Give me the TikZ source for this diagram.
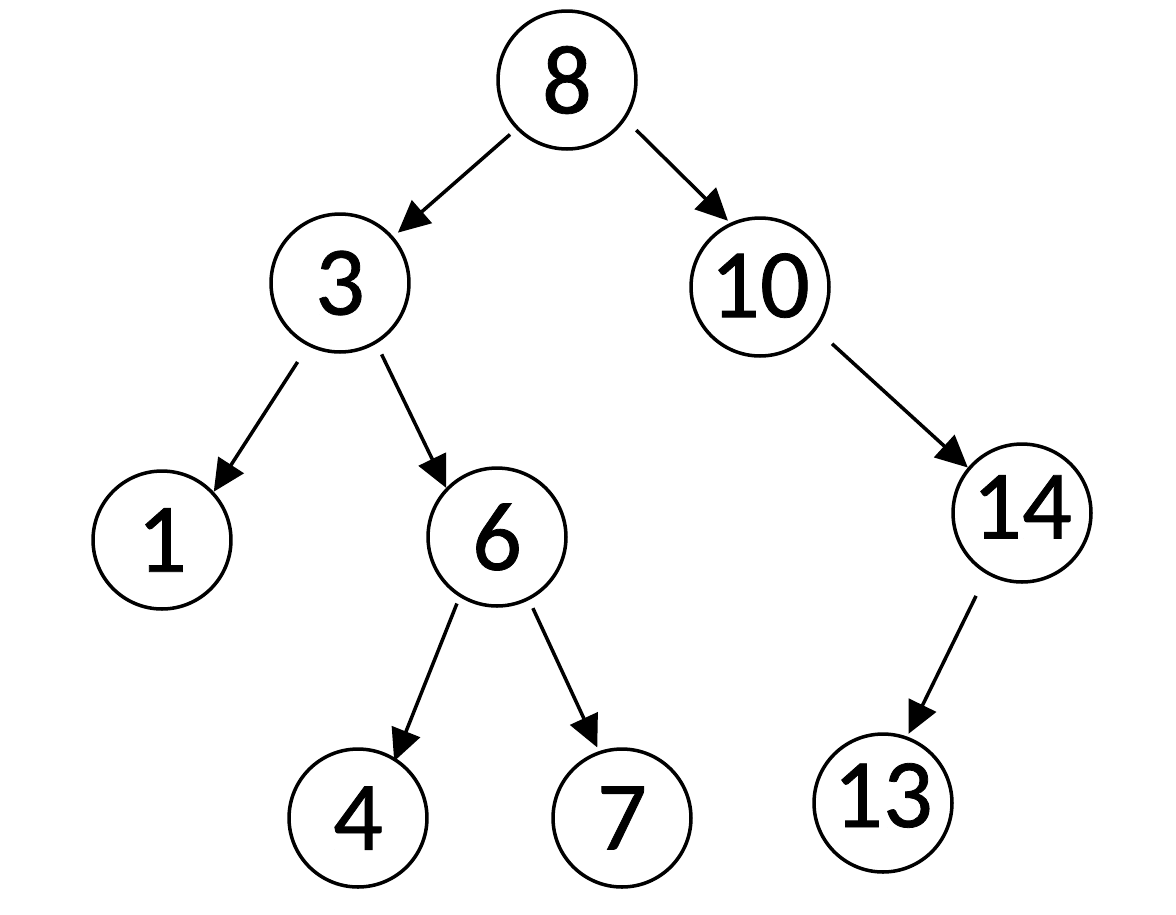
\documentclass[tikz,border=0pt]{standalone}
\usepackage{fontspec}
\setmainfont{Carlito}
\newfontfamily\digitfont[FakeBold=0.8]{Carlito}
\usetikzlibrary{arrows.meta}
\begin{document}
\begin{tikzpicture}[x=0.02cm,y=-0.02cm,
  tnode/.style={circle,draw,line width=2pt,minimum size=2.76cm,inner sep=0pt,
    font=\digitfont\fontsize{56}{60}\selectfont},
  edge/.style={line width=2pt,-{Triangle[length=0.64cm,width=0.6cm]}}]
\useasboundingbox (0,0) rectangle (1176,914);
\node[tnode] (n8) at (567,80) {8};
\node[tnode] (n3) at (340,283) {3};
\node[tnode] (n10) at (760,287) {\raisebox{2pt}{10}};
\node[tnode] (n1) at (162,540) {1};
\node[tnode] (n6) at (497,537) {6};
\node[tnode] (n14) at (1022,513) {\raisebox{7pt}{14}};
\node[tnode] (n4) at (358,818) {4};
\node[tnode] (n7) at (622,818) {7};
\node[tnode] (n13) at (883,803) {\raisebox{9pt}{13}};
\draw[edge,shorten <=4.6pt,shorten >=3.4pt] (n8.-136) -- (n3.41);
\draw[edge,shorten <=8.5pt,shorten >=1.7pt] (n8.-34) -- (n10.115);
\draw[edge,shorten <=10.8pt] (n3.-117) -- (n1.43);
\draw[edge,shorten <=6.8pt] (n3.-59) -- (n6.136);
\draw[edge,shorten <=12pt] (n10.-37) -- (n14.140);
\draw[edge,shorten <=4pt,shorten >=-2pt] (n6.-122) -- (n4.58);
\draw[edge,shorten <=5.1pt,shorten >=2.3pt] (n6.-63) -- (n7.109);
\draw[edge,shorten <=13.7pt,shorten >=1.7pt] (n14.-120) -- (n13.70);
\end{tikzpicture}
\end{document}
